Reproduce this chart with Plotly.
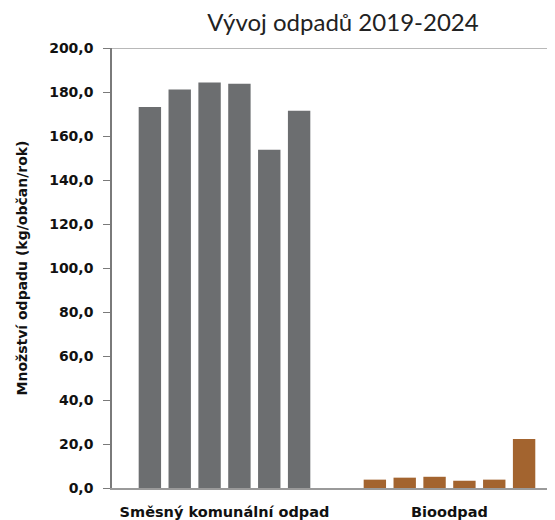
import plotly.graph_objects as go

categories = ["Směsný komunální odpad", "Bioodpad"]
years = ["2019", "2020", "2021", "2022", "2023", "2024"]
smesny = [173.2, 181.1, 184.3, 183.8, 153.7, 171.5]
bio = [3.8, 4.7, 5.1, 3.3, 3.8, 22.3]
cat_colors = ["#6c6e70", "#a3642f"]

fig = go.Figure()
for i, yr in enumerate(years):
    fig.add_trace(go.Bar(
        name=yr,
        x=categories,
        y=[smesny[i], bio[i]],
        marker=dict(color=cat_colors, line=dict(width=0)),
    ))

TFONT = "Lato"
BFONT = "DejaVu Sans"
W, H = 547, 512  # page body has an 8px offset
fig.update_layout(
    width=W, height=H,
    margin=dict(l=104, r=0, t=40, b=30),
    paper_bgcolor="white", plot_bgcolor="white",
    barmode="group", bargap=0.204, bargroupgap=0.25,
    showlegend=False,
    title=dict(text="Vývoj odpadů 2019-2024", x=335 / W, xanchor="center",
               y=1 - 15 / H, yanchor="middle",
               font=dict(family=TFONT, size=24, color="#222222")),
    xaxis=dict(type="category", range=[-0.5, 1.469],
               showline=True, linecolor="#9a9a9a", linewidth=1.5,
               ticks="", showgrid=False, ticklabelstandoff=10,
               tickfont=dict(family=BFONT, size=14.5, color="#111111", weight="bold")),
    yaxis=dict(range=[0, 200], dtick=20, tickformat=".1f",
               showline=True, linecolor="#7a7a7a", linewidth=1.5,
               ticks="outside", ticklen=7, tickcolor="#7a7a7a",
               showgrid=False, zeroline=False, ticklabelstandoff=7,
               tickfont=dict(family=BFONT, size=14, color="#111111", weight="bold"),
               title=dict(text="Množství odpadu (kg/občan/rok)", standoff=18,
                          font=dict(family=BFONT, size=14, color="#111111", weight="bold"))),
    separators=",.",
    shapes=[dict(type="line", xref="paper", yref="y", x0=0, x1=1, y0=200, y1=200,
                 line=dict(color="#a0a0a0", width=1.5))],
)

fig.write_html("out.html")
